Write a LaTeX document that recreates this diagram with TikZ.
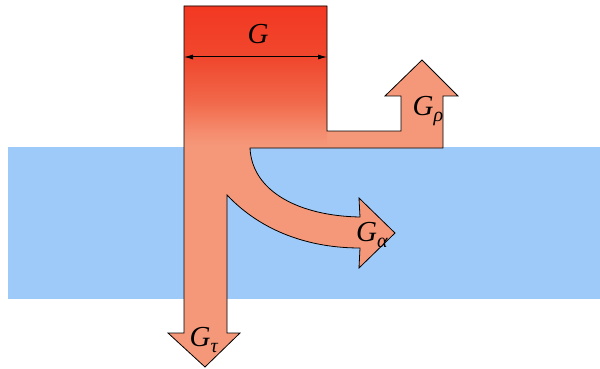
\documentclass[tikz,border=0pt]{standalone}
\usepackage{fontspec}
\setmainfont{Liberation Serif}
\usetikzlibrary{arrows.meta}
\definecolor{bandblue}{RGB}{158,202,249}
\definecolor{salmon}{RGB}{245,152,122}
\definecolor{topred}{RGB}{243,56,34}
\definecolor{shadeA}{RGB}{245,140,110}
\definecolor{shadeB}{RGB}{241,104,74}
\definecolor{shadeC}{RGB}{240,72,46}
\pgfdeclareverticalshading{boxshade}{100bp}{color(0bp)=(salmon); color(25bp)=(salmon); color(30bp)=(shadeA); color(41bp)=(shadeB); color(56bp)=(shadeC); color(75bp)=(topred); color(100bp)=(topred)}
\newcommand\lowsub[1]{\raisebox{-0.22em}{\fontsize{20}{22}\selectfont\textit{#1}}}
\tikzset{
  lbl/.style={font=\fontsize{29}{32}\selectfont, inner sep=0pt},
  outline/.style={draw=black, line width=0.8pt, line join=miter},
  dim/.style={line width=1pt, {Latex[length=9pt,width=5pt]}-{Latex[length=9pt,width=5pt]}}
}
\begin{document}
\begin{tikzpicture}[x=1pt,y=-1pt]
\useasboundingbox (0,0) rectangle (600,369);
\fill[bandblue] (8,147) rectangle (600,299);
\def\flowpath{(184,6) -- (327,6) -- (327,131) -- (401,131) -- (401,96) -- (385,96) -- (422,60) -- (458,96) -- (443,96) -- (443,148) -- (250,148) .. controls (252,192) and (300,216) .. (360,217) -- (359,198) -- (395,233) -- (359,268) -- (360,248) .. controls (310,248) and (262,232) .. (227,195) -- (227,333) -- (240,333) -- (205,367) -- (168,333) -- (184,333) -- cycle}
\fill[salmon] \flowpath;
\begin{scope}
  \clip \flowpath;
  \shade[shading=boxshade] (184,6) rectangle (327,146);
\end{scope}
\draw[outline] \flowpath;
\coordinate (gl) at (184,57);
\coordinate (gr) at (327,57);
\draw[dim] (gl) -- (gr);
\node[lbl] (G) at (258,34) {\textit{G}};
\node[lbl] (Grho) at (428,111) {\textit{G}\lowsub{ρ}};
\node[lbl] (Galpha) at (372,235) {\textit{G}\lowsub{α}};
\node[lbl] (Gtau) at (204,340) {\textit{G}\lowsub{τ}};
\end{tikzpicture}
\end{document}
